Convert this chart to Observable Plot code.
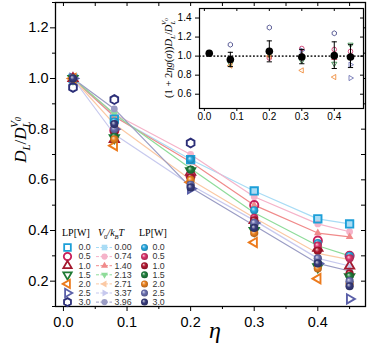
<!DOCTYPE html>
<html><head><meta charset="utf-8">
<script src="https://cdn.jsdelivr.net/npm/d3@7"></script>
<script src="https://cdn.jsdelivr.net/npm/@observablehq/plot@0.6"></script>
<style>
body{margin:0;background:#fff;}
#wrap{position:relative;width:372px;height:354px;overflow:hidden;}
#wrap svg{position:absolute;overflow:visible;background:none;}
</style></head><body><div id="wrap"></div>
<script>
// ---------------- data ----------------
const eta = [0.015, 0.08, 0.2, 0.3, 0.4, 0.45];
const lpLabels = ["0.0","0.5","1.0","1.5","2.0","2.5","3.0"];
const v0Labels = ["0.00","0.74","1.40","2.13","2.71","3.37","3.96"];

// experiment (open markers), one row per LP
const openVals = [
  [1.0, 0.84, 0.68, 0.556, 0.446, 0.426],
  [1.0, 0.795, 0.615, 0.50, 0.36, 0.30],
  [1.0, 0.76, 0.63, 0.44, 0.33, 0.26],
  [1.0, 0.766, 0.635, 0.40, 0.256, 0.217],
  [1.0, 0.735, 0.59, 0.353, 0.21, null],
  [1.0, 0.80, 0.565, 0.43, 0.27, 0.13],
  [0.965, 0.917, 0.745, null, null, null]
];
// simulation (light lines), one row per V0/kBT
const simVals = [
  [1.0, 0.85, 0.68, 0.556, 0.446, 0.426],
  [1.0, 0.86, 0.70, 0.533, 0.426, 0.395],
  [1.0, 0.85, 0.67, 0.50, 0.39, 0.375],
  [1.0, 0.86, 0.645, 0.47, 0.34, 0.30],
  [1.0, 0.82, 0.60, 0.45, 0.31, 0.285],
  [1.0, 0.78, 0.58, 0.44, 0.29, 0.26],
  [1.0, 0.88, 0.57, 0.42, 0.27, 0.24]
];
// balls, one row per LP
const ballVals = [
  [1.0, 0.83, 0.68, 0.48, 0.35, 0.30],
  [1.0, 0.80, 0.62, 0.45, 0.34, 0.29],
  [1.0, 0.79, 0.61, 0.44, 0.32, 0.23],
  [1.0, 0.77, 0.64, 0.42, 0.27, 0.22],
  [1.0, 0.76, 0.60, 0.39, 0.25, 0.19],
  [1.0, 0.80, 0.58, 0.43, 0.29, 0.20],
  [1.0, 0.82, 0.57, 0.41, 0.27, 0.18]
];
// inset
const insetMean = [1.03, 0.965, 1.05, 0.99, 1.005, 0.99];
const insetLow  = [null, 0.89, 0.94, 0.92, 0.87, 0.88];
const insetHigh = [null, 1.04, 1.16, 1.07, 1.15, 1.12];
const insetPtEta = [0.08,0.08,0.08,0.08, 0.2,0.2,0.2,0.2, 0.3,0.3,0.3,0.3,0.3, 0.4,0.4,0.4,0.4,0.4, 0.45,0.45,0.45,0.45,0.45];
const insetPtVal = [1.12,0.90,0.92,0.95, 1.30,1.00,0.98,1.02, 1.08,1.06,0.85,0.95,1.01, 1.24,1.07,0.92,0.78,0.98, 1.12,1.05,1.00,0.91,0.77];
const insetPtSer = [6,4,3,1, 6,4,1,3, 1,5,4,3,2, 6,1,3,4,2, 3,1,2,5,5];

// ---------------- styles ----------------
const openColors = ["#1c9fd8","#c81e5a","#a3192e","#1e7a34","#ec7a1c","#5a5fa8","#2c2f78"];
const simColors  = ["#a9dcf5","#f5b3c9","#f08a8a","#8fdc9a","#fbc9a4","#c7c9ee","#9a9cc4"];
const ballColors = ["#28a8e0","#d9336a","#b01830","#1f7d3c","#ea8220","#6b70b0","#373b7c"];

function poly(n, rot, k){
  return {draw(ctx, size){
    const R = Math.sqrt(size/Math.PI)*k;
    for(let i=0;i<n;i++){
      const a = rot + 2*Math.PI*i/n, x = R*Math.cos(a), y = R*Math.sin(a);
      if(i) ctx.lineTo(x,y); else ctx.moveTo(x,y);
    }
    ctx.closePath();
  }};
}
const sqSym = {draw(ctx,size){const h=Math.sqrt(size/Math.PI)*0.9; ctx.rect(-h,-h,2*h,2*h);}};
const circSym = {draw(ctx,size){const r=Math.sqrt(size/Math.PI); ctx.moveTo(r,0); ctx.arc(0,0,r,0,2*Math.PI);}};
const triUp = poly(3,-Math.PI/2,1.3), triDown = poly(3,Math.PI/2,1.3),
      triLeft = poly(3,Math.PI,1.3), triRight = poly(3,0,1.3),
      hexSym = poly(6,-Math.PI/2,1.08);
const syms = [sqSym, circSym, triUp, triDown, triLeft, triRight, hexSym];
const simSyms = [sqSym, circSym, triUp, triDown, triLeft, triRight, circSym];
const capSym = {draw(ctx,size){const w=Math.sqrt(size/Math.PI); ctx.moveTo(-w,0); ctx.lineTo(w,0);}};

// gradients for balls
const defs = d3.select("body").append("svg").attr("width",0).attr("height",0)
  .style("position","absolute").append("defs");
ballColors.forEach((c,i)=>{
  const g = defs.append("radialGradient").attr("id","ball"+i)
    .attr("cx","50%").attr("cy","50%").attr("r","55%").attr("fx","35%").attr("fy","32%");
  g.append("stop").attr("offset","0%").attr("stop-color", d3.interpolateRgb(c,"#fff")(0.75));
  g.append("stop").attr("offset","45%").attr("stop-color", c);
  g.append("stop").attr("offset","100%").attr("stop-color", d3.color(c).darker(0.9).formatHex());
});

// ---------------- tables ----------------
function table(vals){
  const out=[];
  vals.forEach((row,s)=>row.forEach((v,j)=>{ if(v!=null) out.push({eta:eta[j], v, s}); }));
  return out;
}
const openData = table(openVals), simData = table(simVals), ballData = table(ballVals);

const wrap = document.getElementById("wrap");
const font = "'Liberation Sans', Arial, sans-serif";
const serif = "'Liberation Serif', serif";

// ---------------- main plot ----------------
const mL=55, mR=7, mT=2, mB=48, W=372, H=354;
const marks = [];
for(let s=0;s<7;s++){
  marks.push(Plot.line(simData.filter(d=>d.s===s), {x:"eta", y:"v", stroke:simColors[s], strokeWidth:1.2}));
}
for(let s=0;s<7;s++){
  marks.push(Plot.dot(simData.filter(d=>d.s===s), {x:"eta", y:"v", fill:simColors[s], stroke:"none", r:3.4, symbol:simSyms[s]}));
}
for(let s=0;s<7;s++){
  marks.push(Plot.dot(openData.filter(d=>d.s===s), {x:"eta", y:"v", stroke:openColors[s], fill:"none", strokeWidth:1.9, r:4.1, symbol:syms[s]}));
}
for(let s=0;s<7;s++){
  marks.push(Plot.dot(ballData.filter(d=>d.s===s), {x:"eta", y:"v", fill:`url(#ball${s})`, stroke:"none", r:4.1}));
}
const xMaj=[0,0.1,0.2,0.3,0.4], xMin=[0.05,0.15,0.25,0.35,0.45];
const yMaj=[0.2,0.4,0.6,0.8,1.0,1.2], yMin=[0.1,0.3,0.5,0.7,0.9,1.1,1.3];
const main = Plot.plot({
  width:W, height:H, marginLeft:mL, marginRight:mR, marginTop:mT, marginBottom:mB,
  x:{domain:[-0.0125,0.475]}, y:{domain:[0.1,1.3]},
  style:{fontFamily:font, fontSize:"14.5px", color:"#000", background:"none", overflow:"visible"},
  marks:[
    ...marks,
    Plot.axisX({ticks:xMaj, tickFormat:d3.format(".1f"), tickSize:5, tickPadding:5, label:null, fontSize:14.5}),
    Plot.axisX({ticks:xMin, tickFormat:()=>"", tickSize:3, label:null}),
    Plot.axisY({ticks:yMaj, tickFormat:d3.format(".1f"), tickSize:5, tickPadding:2, label:null, fontSize:14.5}),
    Plot.axisY({ticks:yMin, tickFormat:()=>"", tickSize:3, label:null}),
    Plot.ruleX([...xMaj, ...xMin], {insetBottom:H-mT-mB-4, stroke:"#000"}),
    Plot.ruleY([...yMaj, ...yMin], {insetLeft:W-mL-mR-4, stroke:"#000"}),
    Plot.frame({stroke:"#000", strokeWidth:1.3})
  ]
});
main.style.left="0px"; main.style.top="0px";
wrap.appendChild(main);

const ms = d3.select(main);
// x label
ms.append("text").attr("x",215).attr("y",338).attr("text-anchor","middle")
  .style("font-family",serif).style("font-style","italic")
  .style("font-size","24px").text("η");
// y label
const yl = ms.append("text").attr("transform","translate(26,140) rotate(-90)").attr("text-anchor","middle")
  .style("font-family",serif).style("font-style","italic").style("font-size","17px");
yl.append("tspan").text("D");
yl.append("tspan").attr("dy",4).style("font-size","11px").text("L");
yl.append("tspan").attr("dy",-4).style("font-style","normal").text("/");
yl.append("tspan").text("D");
yl.append("tspan").attr("dy",4).style("font-size","11px").text("L");
yl.append("tspan").attr("dx",-6).attr("dy",-12).style("font-size","11px").text("V");
yl.append("tspan").attr("dy",3).style("font-size","7.5px").text("0");

// ---------------- inset ----------------
const iL=49, iR=2, iT=8, iB=17, iW=215, iH=125;
const meanData = eta.map((e,j)=>({eta:e, v:insetMean[j], lo:insetLow[j], hi:insetHigh[j]}));
const errData = meanData.filter(d=>d.lo!=null);
const ptData = insetPtEta.map((e,j)=>({eta:e, v:insetPtVal[j], s:insetPtSer[j]}));
const imarks=[];
for(let s=0;s<7;s++){
  imarks.push(Plot.dot(ptData.filter(d=>d.s===s), {x:"eta", y:"v", stroke:openColors[s], strokeOpacity:0.75, fill:"none", strokeWidth:1, r:2.3, symbol:syms[s]}));
}
const inset = Plot.plot({
  width:iW, height:iH, marginLeft:iL, marginRight:iR, marginTop:iT, marginBottom:iB,
  x:{domain:[-0.015,0.49]}, y:{domain:[0.45,1.5]},
  style:{fontFamily:font, fontSize:"10px", color:"#000", background:"none", overflow:"visible"},
  marks:[
    Plot.frame({fill:"white", stroke:"none"}),
    Plot.ruleY([1.0], {stroke:"#333", strokeWidth:1.6, strokeDasharray:"1.8,1.8"}),
    ...imarks,
    Plot.ruleX(errData, {x:"eta", y1:"lo", y2:"hi", stroke:"#000", strokeWidth:1}),
    Plot.dot(errData, {x:"eta", y:"lo", symbol:capSym, r:2.6, stroke:"#000", strokeWidth:1}),
    Plot.dot(errData, {x:"eta", y:"hi", symbol:capSym, r:2.6, stroke:"#000", strokeWidth:1}),
    Plot.dot(meanData, {x:"eta", y:"v", fill:"#000", r:3.8}),
    Plot.axisX({ticks:[0,0.1,0.2,0.3,0.4], tickFormat:d3.format(".1f"), tickSize:3, tickPadding:1, label:null, fontSize:10}),
    Plot.axisY({ticks:[0.6,0.8,1.0,1.2,1.4], tickFormat:d3.format(".1f"), tickSize:4, tickPadding:4, label:null, fontSize:10}),
    Plot.ruleX([0,0.1,0.2,0.3,0.4], {insetBottom:iH-iT-iB-3, stroke:"#000"}),
    Plot.ruleY([0.6,0.8,1.0,1.2,1.4], {insetLeft:iW-iL-iR-3, stroke:"#000"}),
    Plot.frame({stroke:"#000", strokeWidth:1.2})
  ]
});
inset.style.left="150px"; inset.style.top="0px";
wrap.appendChild(inset);
const is = d3.select(inset);
const il = is.append("text").attr("transform","translate(22,58) rotate(-90)").attr("text-anchor","middle")
  .style("font-family",serif).style("font-size","10.5px");
il.append("tspan").text("(1 + 2");
il.append("tspan").style("font-style","italic").text("ηg");
il.append("tspan").text("(");
il.append("tspan").style("font-style","italic").text("σ");
il.append("tspan").text("))");
il.append("tspan").style("font-style","italic").text("D");
il.append("tspan").attr("dy",3).style("font-size","7px").style("font-style","italic").text("L");
il.append("tspan").attr("dy",-3).text("/");
il.append("tspan").style("font-style","italic").text("D");
il.append("tspan").attr("dy",3).style("font-size","7px").style("font-style","italic").text("L");
il.append("tspan").attr("dx",-4).attr("dy",-9).style("font-size","7px").style("font-style","italic").text("V");
il.append("tspan").attr("dy",2).style("font-size","5px").text("0");

// ---------------- legend ----------------
const rows = lpLabels.map((l,i)=>({i, lp:l, v0:v0Labels[i], y:22+i*9.1}));
const lg = Plot.plot({
  width:150, height:82, margin:0,
  x:{type:"identity", axis:null}, y:{type:"identity", axis:null},
  style:{fontFamily:font, fontSize:"8.8px", color:"#000", background:"none", overflow:"visible"},
  marks:[
    ...rows.map(r=>Plot.dot([r], {x:()=>12, y:"y", stroke:openColors[r.i], fill:"none", strokeWidth:1.8, r:3.7, symbol:syms[r.i]})),
    Plot.text(rows, {x:()=>23, y:"y", text:"lp", textAnchor:"start", fill:"#333"}),
    ...rows.map(r=>Plot.ruleY([r], {y:"y", x1:()=>41, x2:()=>57, stroke:simColors[r.i], strokeWidth:1, strokeDasharray:"3,1.5"})),
    ...rows.map(r=>Plot.dot([r], {x:()=>49, y:"y", fill:simColors[r.i], r:3.1, symbol:simSyms[r.i]})),
    Plot.text(rows, {x:()=>59, y:"y", text:"v0", textAnchor:"start", fill:"#333"}),
    ...rows.map(r=>Plot.dot([r], {x:()=>89, y:"y", fill:`url(#ball${r.i})`, r:3.5})),
    Plot.text(rows, {x:()=>97, y:"y", text:"lp", textAnchor:"start", fill:"#333"})
  ]
});
lg.style.left="55px"; lg.style.top="225px";
wrap.appendChild(lg);
const ls = d3.select(lg);
ls.append("text").attr("x",7).attr("y",11).attr("text-anchor","start").style("font-family",serif).style("font-size","10px").text("LP[W]");
ls.append("text").attr("x",84).attr("y",11).attr("text-anchor","start").style("font-family",serif).style("font-size","10px").text("LP[W]");
const vh = ls.append("text").attr("x",43).attr("y",11).attr("text-anchor","start").style("font-family",serif).style("font-size","10px").style("font-style","italic");
vh.append("tspan").text("V");
vh.append("tspan").attr("dy",2.5).style("font-size","6.5px").style("font-style","normal").text("0");
vh.append("tspan").attr("dy",-2.5).text("/k");
vh.append("tspan").attr("dy",2.5).style("font-size","6.5px").text("B");
vh.append("tspan").attr("dy",-2.5).text("T");
</script></body></html>
